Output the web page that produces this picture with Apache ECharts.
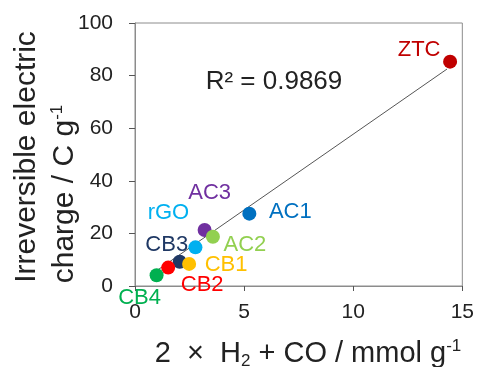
<!DOCTYPE html>
<html>
<head>
<meta charset="utf-8">
<script src="https://cdn.jsdelivr.net/npm/echarts@6/dist/echarts.min.js"></script>
<style>
html, body { margin: 0; padding: 0; background: #fff; }
#chart { width: 477px; height: 367px; }
</style>
</head>
<body>
<div id="chart"></div>
<script>
// samples
var names = ['ZTC', 'AC1', 'AC3', 'AC2', 'rGO', 'CB3', 'CB1', 'CB2', 'CB4'];
var gasAmount = [14.44, 5.24, 3.19, 3.57, 2.77, 2.05, 2.48, 1.52, 0.99];
var charge = [85.3, 27.5, 21.3, 18.7, 14.7, 9.2, 8.4, 7.0, 4.1];
// linear fit line ends
var fitX = [0.99, 14.3];
var fitY = [5.8, 82.5];
var xTicks = [0, 5, 10, 15];
var yTicks = [0, 20, 40, 60, 80, 100];

var colors = ['#c00000', '#0070c0', '#7030a0', '#92d050', '#00b0f0', '#1f3864', '#ffc000', '#ff0000', '#00b050'];
var labelOffsets = [[-31, -12], [41, -2], [5, -37], [32, 8], [-27, -34], [-13, -17], [37, 1], [34, 17], [-17, 23]];

var font = 'Liberation Sans, Arial, sans-serif';

var pts = names.map(function(n, i) {
	return {
		name: n,
		value: [gasAmount[i], charge[i]],
		itemStyle: { color: colors[i], opacity: 1 },
		label: {
			show: true,
			formatter: n,
			position: 'inside',
			offset: labelOffsets[i],
			color: colors[i],
			textBorderWidth: 0,
			fontSize: 22,
			fontFamily: font
		}
	};
});

var chart = echarts.init(document.getElementById('chart'));
chart.setOption({
	animation: false,
	grid: {
		left: 135, right: 13, top: 23, bottom: 81,
		show: true, borderColor: '#8c8c8c', borderWidth: 1
	},
	xAxis: {
		type: 'value',
		min: xTicks[0], max: xTicks[xTicks.length - 1], interval: 5,
		splitLine: { show: false },
		axisLine: { lineStyle: { color: '#8c8c8c' } },
		axisTick: { show: true, length: 5, lineStyle: { color: '#555' } },
		axisLabel: { color: '#222', fontSize: 21, fontFamily: font, margin: 16 }
	},
	yAxis: {
		type: 'value',
		min: yTicks[0], max: yTicks[yTicks.length - 1], interval: 20,
		splitLine: { show: false },
		axisLine: { show: true, lineStyle: { color: '#8c8c8c' } },
		axisTick: { show: true, length: 6, lineStyle: { color: '#555' } },
		axisLabel: { color: '#222', fontSize: 21, fontFamily: font, margin: 22 }
	},
	graphic: [
		{
			type: 'text', x: 27, y: 157, rotation: Math.PI / 2,
			style: { text: 'Irreversible electric', font: '30px ' + font, fill: '#222', align: 'center', verticalAlign: 'middle' }
		},
		{
			type: 'text', x: 65, y: 194, rotation: Math.PI / 2,
			style: {
				text: '{a|charge / C g}{s|-1}',
				align: 'center', verticalAlign: 'middle',
				rich: {
					a: { fontSize: 30, fontFamily: font, fill: '#222', lineHeight: 32 },
					s: { fontSize: 17, fontFamily: font, fill: '#222', verticalAlign: 'top', lineHeight: 32 }
				}
			}
		},
		{
			type: 'text', x: 308, y: 354,
			style: {
				text: '{a|2  ×  H}{b|2}{a| + CO / mmol g}{s|-1}',
				align: 'center', verticalAlign: 'middle',
				rich: {
					a: { fontSize: 29, fontFamily: font, fill: '#222', lineHeight: 32 },
					b: { fontSize: 17, fontFamily: font, fill: '#222', verticalAlign: 'bottom', lineHeight: 32 },
					s: { fontSize: 17, fontFamily: font, fill: '#222', verticalAlign: 'top', lineHeight: 32 }
				}
			}
		},
		{
			type: 'text', x: 274, y: 82,
			style: { text: 'R² = 0.9869', font: '26px ' + font, fill: '#222', align: 'center', verticalAlign: 'middle' }
		}
	],
	series: [
		{
			type: 'line',
			data: fitX.map(function(x, i) { return [x, fitY[i]]; }),
			symbol: 'none',
			lineStyle: { color: '#555', width: 1 },
			silent: true,
			z: 1
		},
		{
			type: 'scatter',
			symbolSize: 14,
			data: pts,
			z: 2
		}
	]
});
window.addEventListener('resize', chart.resize);
</script>
</body>
</html>
